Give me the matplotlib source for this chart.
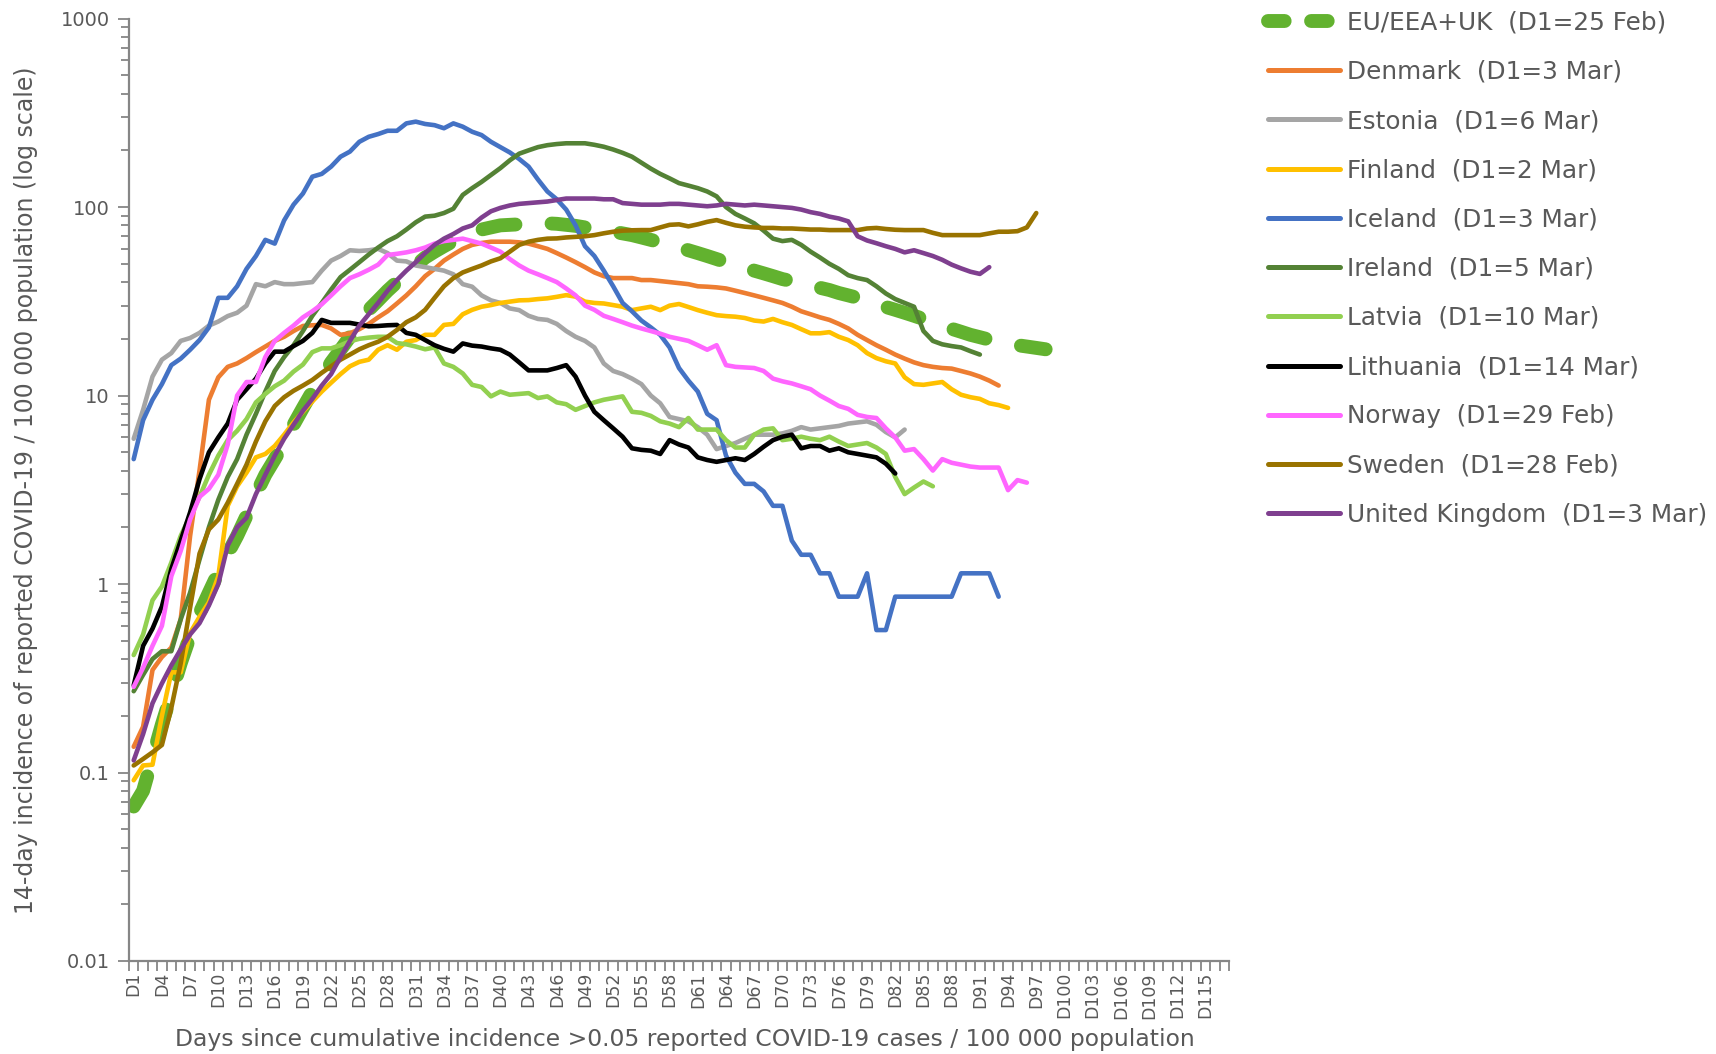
#!/usr/bin/env python3
import matplotlib

matplotlib.use("Agg")
import matplotlib.pyplot as plt
from matplotlib.lines import Line2D
from matplotlib.ticker import FixedLocator, LogLocator, NullFormatter

# 14-day incidence per 100 000, one value per day starting at D1
N_DAYS = 117

eu = [0.066, 0.08, 0.12, 0.18, 0.26, 0.38, 0.53, 0.7, 0.9, 1.15, 1.45, 1.8, 2.3, 3.0, 3.8,
      4.6, 5.6, 7.0, 8.6, 10.5, 12.5, 15, 17.5, 20.5, 25, 28.5, 32, 36, 40, 44, 49, 54, 58, 62,
      66, 70, 73, 76, 78, 80, 80.5, 81, 81.5, 82, 82, 81.5, 80.5, 79.5, 78, 77, 75.5, 74, 72.5,
      71, 69, 67, 65, 63, 61, 59, 57, 55, 53, 51, 49.5, 48, 46, 44.5, 43, 41.5, 40.5, 39.5,
      38.5, 37.3, 36.3, 35, 34, 33, 31.5, 30.5, 29.5, 28.5, 27.5, 26.5, 25.5, 24.5, 23.5, 22.6,
      21.8, 21, 20.4, 19.8, 19.3, 18.9, 18.5, 18.2, 17.9, 17.6]
denmark = [0.137, 0.175, 0.35, 0.41, 0.46, 0.65, 1.8, 4.0, 9.5, 12.5, 14.2, 14.8, 15.8, 17,
           18.2, 19.5, 20.5, 22, 23.4, 23.6, 23.7, 22.7, 21, 21.4, 22.5, 24, 26, 28, 30.8, 34,
           38, 43, 47, 52, 56, 60, 63, 64.5, 65.5, 65.5, 65.5, 65, 64, 62, 60, 57, 54, 51, 48,
           45, 43, 42, 42, 42, 41, 41, 40.5, 40, 39.5, 39, 38, 37.8, 37.5, 37, 36, 35, 34, 33,
           32, 31, 29.6, 28, 27, 26, 25.2, 24, 22.7, 21, 19.7, 18.5, 17.5, 16.5, 15.7, 15, 14.5,
           14.2, 14, 13.9, 13.5, 13.1, 12.6, 12, 11.3]
estonia = [5.9, 8.4, 12.6, 15.5, 16.8, 19.5, 20.2, 21.5, 23.5, 24.7, 26.4, 27.5, 30, 39, 38,
           40, 39, 39, 39.5, 40, 46, 52, 55, 59, 58.5, 59, 60, 57, 52, 51.5, 49, 48, 47, 46, 44,
           39, 37.8, 34, 32, 31, 29, 28.4, 26.5, 25.5, 25.2, 24, 22, 20.5, 19.5, 18, 14.8, 13.5,
           13, 12.3, 11.5, 10, 9.1, 7.7, 7.5, 7.3, 6.8, 6.2, 5.2, 5.4, 5.6, 5.9, 6.2, 6.2, 6.2,
           6.3, 6.5, 6.8, 6.6, 6.7, 6.8, 6.9, 7.1, 7.2, 7.3, 7.0, 6.4, 6.0, 6.6]
finland = [0.091, 0.109, 0.11, 0.2, 0.34, 0.34, 0.55, 0.67, 0.8, 1.1, 2.6, 3.3, 3.9, 4.7, 4.9,
           5.4, 6.2, 7.2, 8.2, 9.3, 10.5, 11.7, 13, 14.3, 15.1, 15.5, 17.5, 18.5, 17.5, 19.3,
           19.7, 21, 21, 23.7, 24, 27, 28.5, 29.6, 30.2, 31, 31.5, 32, 32.1, 32.5, 32.8, 33.4,
           34.1, 33.5, 31.5, 31, 30.8, 30.2, 29.6, 28.4, 29, 29.6, 28.4, 30, 30.6, 29.5, 28.4,
           27.5, 26.7, 26.4, 26.2, 25.8, 25, 24.7, 25.5, 24.5, 23.7, 22.5, 21.4, 21.4, 21.7,
           20.5, 19.7, 18.5, 16.8, 15.8, 15.2, 14.8, 12.5, 11.5, 11.4, 11.6, 11.8, 10.8, 10.1,
           9.8, 9.6, 9.1, 8.9, 8.6]
iceland = [4.6, 7.4, 9.5, 11.5, 14.5, 15.7, 17.5, 19.7, 23, 33, 33, 38, 47, 55, 67, 64, 85,
           103, 118, 145, 150, 164, 185, 197, 222, 236, 244, 254, 254, 278, 284, 276, 272, 262,
           278, 267, 251, 241, 222, 208, 195, 180, 164, 140, 121, 110, 97, 80, 62, 55, 46, 38,
           31, 28, 25, 23, 21, 18, 14, 12, 10.5, 8, 7.4, 4.8, 3.9, 3.4, 3.4, 3.1, 2.6, 2.6, 1.7,
           1.43, 1.43, 1.14, 1.14, 0.857, 0.857, 0.857, 1.14, 0.57, 0.57, 0.857, 0.857, 0.857,
           0.857, 0.857, 0.857, 0.857, 1.14, 1.14, 1.14, 1.14, 0.857]
ireland = [0.27, 0.33, 0.4, 0.44, 0.44, 0.65, 0.9, 1.35, 2.0, 2.8, 3.7, 4.6, 6.2, 8.0, 10.5,
           13.5, 16, 18.5, 22, 26.5, 31, 36.5, 42.5, 46.5, 51, 56, 61, 66, 70, 76, 83, 89, 90,
           93, 98, 116, 126, 136, 148, 161, 177, 192, 200, 208, 213, 216, 218, 218, 218, 214,
           209, 202, 194, 185, 172, 160, 150, 142, 134, 130, 126, 121, 114, 100, 92, 87, 82, 75,
           68, 66, 67, 63, 58, 54, 50, 47, 43.5, 42, 41, 38, 34.8, 32.5, 31, 29.6, 22, 19.5,
           18.7, 18.3, 18, 17.2, 16.5]
latvia = [0.42, 0.54, 0.82, 0.97, 1.3, 1.8, 2.3, 2.9, 3.8, 4.8, 5.8, 6.5, 7.5, 9.2, 10.2,
          11.2, 12, 13.4, 14.6, 17, 17.8, 17.8, 18.5, 19.4, 20, 20.3, 20.5, 20.5, 19, 18.7,
          18.2, 17.6, 18, 14.8, 14.2, 13.1, 11.4, 11.1, 9.9, 10.5, 10.1, 10.2, 10.3, 9.7, 9.9,
          9.2, 9.0, 8.4, 8.8, 9.2, 9.5, 9.7, 9.9, 8.2, 8.1, 7.8, 7.3, 7.1, 6.8, 7.6, 6.6, 6.6,
          6.6, 5.8, 5.3, 5.3, 6.2, 6.6, 6.7, 5.8, 5.9, 6.05, 5.9, 5.8, 6.05, 5.7, 5.4, 5.5, 5.6,
          5.3, 4.9, 3.7, 3.0, 3.25, 3.5, 3.3]
lithuania = [0.29, 0.47, 0.58, 0.76, 1.2, 1.7, 2.4, 3.6, 5.0, 6.0, 7.1, 9.5, 10.8, 12.3, 14.8,
             17.1, 17.1, 18.3, 19.5, 21.5, 25.2, 24.3, 24.3, 24.3, 23.8, 23.3, 23.4, 23.6,
             23.7, 21.5, 21, 19.7, 18.5, 17.7, 17.1, 18.9, 18.4, 18.2, 17.8, 17.5, 16.5, 15,
             13.6, 13.6, 13.6, 14, 14.5, 12.6, 10, 8.2, 7.4, 6.7, 6.05, 5.25, 5.15, 5.1, 4.9,
             5.8, 5.5, 5.3, 4.7, 4.55, 4.45, 4.55, 4.65, 4.55, 4.9, 5.35, 5.8, 6.05, 6.2, 5.25,
             5.4, 5.4, 5.1, 5.25, 5.0, 4.9, 4.8, 4.7, 4.35, 3.86]
norway = [0.285, 0.36, 0.47, 0.6, 1.1, 1.5, 2.2, 2.9, 3.2, 3.8, 5.5, 10, 11.8, 11.8, 16, 19.5,
          21.5, 23.5, 26, 28, 30.5, 34, 38, 42, 44, 46.5, 49.5, 55.7, 56.5, 57.5, 59, 61, 64,
          66, 67, 68, 66, 64, 61, 58, 53, 49, 46, 44, 42, 40, 37, 34, 30, 28.5, 26.5, 25.5,
          24.5, 23.5, 22.7, 22, 21.3, 20.5, 20, 19.5, 18.5, 17.5, 18.5, 14.5, 14.2, 14.1, 14,
          13.5, 12.3, 11.9, 11.6, 11.2, 10.8, 10, 9.4, 8.8, 8.5, 7.9, 7.7, 7.6, 6.7, 6.0, 5.1,
          5.2, 4.6, 4.0, 4.6, 4.4, 4.3, 4.2, 4.15, 4.15, 4.15, 3.15, 3.56, 3.45]
sweden = [0.109, 0.118, 0.128, 0.14, 0.22, 0.38, 0.75, 1.45, 1.95, 2.2, 2.7, 3.4, 4.3, 5.7,
          7.3, 8.8, 9.8, 10.6, 11.3, 12.1, 13.2, 14.3, 15.5, 16.5, 17.6, 18.5, 19.3, 20.5,
          22.3, 24.5, 26, 28.5, 33, 38, 42, 45, 47, 49, 51.5, 53.5, 58, 63, 65.5, 67, 68, 68.2,
          69, 69.5, 70, 71, 72.6, 74, 75, 75.3, 75.5, 75.5, 78, 80.5, 81, 79, 81, 83.5, 85.3,
          82.5, 80, 78.7, 78, 77.5, 77.5, 77, 77, 76.5, 76, 76, 75.5, 75.5, 75.5, 75.5, 77,
          77.5, 76.5, 75.8, 75.5, 75.5, 75.5, 73, 71, 71, 71, 71, 71, 72.5, 74, 74, 74.5, 78, 93]
uk = [0.116, 0.16, 0.233, 0.297, 0.37, 0.45, 0.54, 0.62, 0.77, 1.0, 1.6, 2.0, 2.25, 3.0, 3.8,
      4.8, 5.9, 7.0, 8.3, 9.6, 11.3, 13, 16, 19.5, 23.5, 27, 31, 36, 41, 46, 51, 57, 63, 68,
      72, 77, 80, 88, 95, 99, 102, 104, 105, 106, 107, 109, 111, 111, 111, 111, 110, 110,
      105, 104, 103, 103, 103, 104, 104, 103, 102, 101, 102, 104, 103, 102, 103, 102, 101,
      100, 99, 97, 94, 92, 89, 87, 84, 70, 66.5, 64.3, 62, 60, 57.5, 59, 57, 55, 52.5, 49.5,
      47.3, 45.4, 44.2, 48]

SERIES = (
    {"label": "EU/EEA+UK  (D1=25 Feb)", "values": eu, "color": "#62b22f"},
    {"label": "Denmark  (D1=3 Mar)", "values": denmark, "color": "#ed7d31"},
    {"label": "Estonia  (D1=6 Mar)", "values": estonia, "color": "#a5a5a5"},
    {"label": "Finland  (D1=2 Mar)", "values": finland, "color": "#ffc000"},
    {"label": "Iceland  (D1=3 Mar)", "values": iceland, "color": "#4472c4"},
    {"label": "Ireland  (D1=5 Mar)", "values": ireland, "color": "#548235"},
    {"label": "Latvia  (D1=10 Mar)", "values": latvia, "color": "#92d050"},
    {"label": "Lithuania  (D1=14 Mar)", "values": lithuania, "color": "#000000"},
    {"label": "Norway  (D1=29 Feb)", "values": norway, "color": "#ff66ff"},
    {"label": "Sweden  (D1=28 Feb)", "values": sweden, "color": "#997300"},
    {"label": "United Kingdom  (D1=3 Mar)", "values": uk, "color": "#7f3f8f"},
)

TEXT = "#595959"
AXIS = "#868686"

plt.rcParams["font.family"] = ["DejaVu Sans"]

fig = plt.figure(figsize=(17.16, 10.54), dpi=100)
ax = fig.add_axes([129 / 1716, 1 - 961 / 1054, 1100 / 1716, (961 - 18.6) / 1054])

handles = []
for i, s in enumerate(SERIES):
    days = list(range(1, len(s["values"]) + 1))
    if i == 0:
        ax.plot(days, s["values"], color=s["color"], linewidth=10, dashes=(2.4, 2.6),
                dash_capstyle="round", solid_capstyle="round", zorder=2)
        handles.append(Line2D([], [], color=s["color"], linewidth=10, dashes=(1.2, 1.9),
                              dash_capstyle="round"))
    else:
        ax.plot(days, s["values"], color=s["color"], linewidth=3.3,
                solid_joinstyle="round", solid_capstyle="round", zorder=2 + i)
        handles.append(Line2D([], [], color=s["color"], linewidth=3.6,
                              solid_capstyle="round"))

ax.set_yscale("log")
ax.set_ylim(0.01, 1000)
ax.set_xlim(0.5, N_DAYS + 0.5)

ax.yaxis.set_major_locator(LogLocator(base=10, numticks=10))
ax.yaxis.set_minor_locator(LogLocator(base=10, subs=range(2, 10), numticks=100))
ax.yaxis.set_minor_formatter(NullFormatter())
ax.set_yticks([0.01, 0.1, 1, 10, 100, 1000])
ax.set_yticklabels(["0.01", "0.1", "1", "10", "100", "1000"])

label_days = list(range(1, N_DAYS + 1, 3))
ax.set_xticks(label_days)
ax.set_xticklabels([f"D{d}" for d in label_days], rotation=90)
ax.xaxis.set_minor_locator(FixedLocator([d + 0.5 for d in range(0, N_DAYS + 1)]))

ax.tick_params(axis="y", which="major", length=8, width=1.3, color=AXIS,
               labelsize=14, labelcolor=TEXT, pad=6)
ax.tick_params(axis="y", which="minor", length=6, width=1.3, color=AXIS)
ax.tick_params(axis="x", which="major", length=0, labelsize=12.5, labelcolor=TEXT, pad=8)
ax.tick_params(axis="x", which="minor", length=7, width=1.3, color=AXIS)

for side in ("top", "right"):
    ax.spines[side].set_visible(False)
for side in ("left", "bottom"):
    ax.spines[side].set_color(AXIS)
    ax.spines[side].set_linewidth(1.6)

ax.set_xlabel("Days since cumulative incidence >0.05 reported COVID-19 cases / 100 000 population",
              fontsize=16.9, color=TEXT, labelpad=7)
ax.xaxis.label.set_x(0.505)
ax.set_ylabel("14-day incidence of reported COVID-19 / 100 000 population (log scale)",
              fontsize=17, color=TEXT, labelpad=16)

fig.legend(handles, [s["label"] for s in SERIES], loc="upper left",
           bbox_to_anchor=(1268 / 1716, 1 - 10.7 / 1054), frameon=False, borderpad=0,
           borderaxespad=0, handlelength=2.9, handletextpad=0.28, labelspacing=1.02,
           fontsize=17.8, labelcolor=TEXT)

fig.savefig("out.png", dpi=100)
